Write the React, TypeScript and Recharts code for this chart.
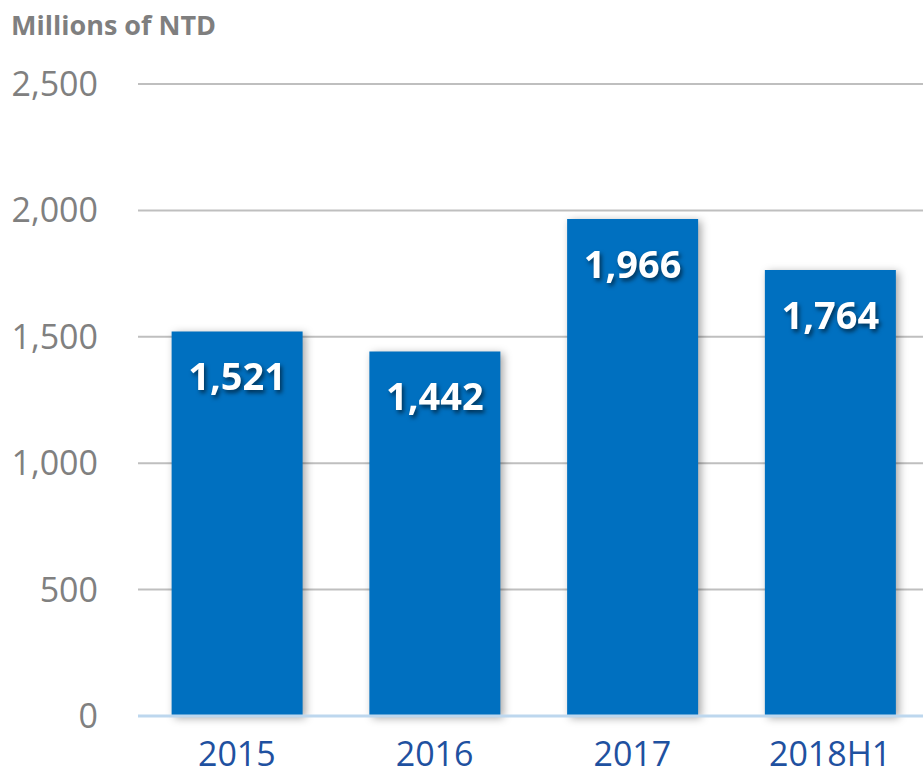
import React from 'react';
import { BarChart, Bar, XAxis, YAxis, CartesianGrid, LabelList } from 'recharts';

const categories = ['2015', '2016', '2017', '2018H1'];
const revenue = [1521, 1442, 1966, 1764];
const yTicks = [0, 500, 1000, 1500, 2000, 2500];
const unitLabel = 'Millions of NTD';

const data = categories.map((c, i) => ({ year: c, value: revenue[i] }));

const fmt = (v: number) => v.toLocaleString('en-US');

const BarLabel = (props: any) => {
  const { x, y, width, value } = props;
  return (
    <text
      x={x + width / 2}
      y={y + 44}
      textAnchor="middle"
      dominantBaseline="central"
      fill="#FFFFFF"
      fontFamily="'Open Sans', sans-serif"
      fontWeight={700}
      fontSize={38}
      style={{ filter: 'drop-shadow(2px 3px 2px rgba(0,0,0,0.55))' }}
    >
      {fmt(value)}
    </text>
  );
};

export default function App() {
  return (
    <div style={{ position: 'absolute', left: 0, top: 0, width: 923, height: 779, overflow: 'hidden', background: '#fff' }}>
      <style>{`.recharts-bar-rectangle path { filter: drop-shadow(3px 2px 4px rgba(0,0,0,0.35)); }`}</style>
      <div
        style={{
          position: 'absolute',
          left: 11,
          top: 6,
          fontFamily: "'Open Sans', sans-serif",
          fontWeight: 700,
          fontSize: 27,
          lineHeight: 'normal',
          color: '#7F7F7F',
          whiteSpace: 'nowrap',
        }}
      >
        {unitLabel}
      </div>
      <BarChart
        width={929}
        height={779}
        data={data}
        margin={{ top: 84, right: 0, bottom: 0, left: 0 }}
        barCategoryGap="17%"
      >
        <CartesianGrid vertical={false} stroke="#BFBFBF" strokeWidth={2} />
        <XAxis
          dataKey="year"
          height={63}
          axisLine={{ stroke: '#BDD7EE', strokeWidth: 3 }}
          tickLine={false}
          tickMargin={20}
          tick={{ fill: '#1F51A0', fontSize: 34, fontFamily: "'Open Sans', sans-serif" }}
        />
        <YAxis
          width={138}
          domain={[0, 2500]}
          ticks={yTicks}
          axisLine={false}
          tickLine={false}
          tickMargin={34}
          tickFormatter={fmt}
          tick={{ fill: '#808080', fontSize: 34, fontFamily: "'Open Sans', sans-serif" }}
        />
        <Bar dataKey="value" fill="#0070C0" isAnimationActive={false}>
          <LabelList dataKey="value" content={BarLabel} />
        </Bar>
      </BarChart>
    </div>
  );
}
